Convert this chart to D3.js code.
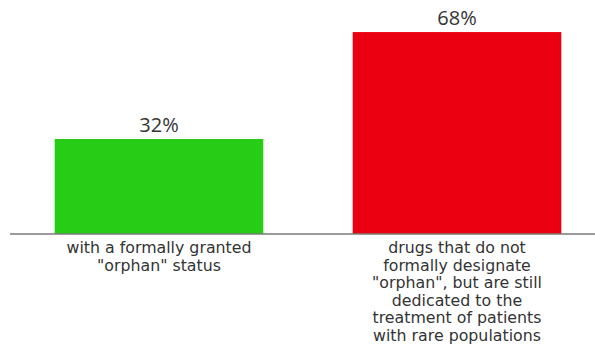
<!DOCTYPE html>
<html>
<head>
<meta charset="utf-8">
<script src="https://cdn.jsdelivr.net/npm/d3@7"></script>
<style>
  html, body { margin: 0; padding: 0; background: #fff; }
  svg { display: block; }
</style>
</head>
<body>
<svg id="chart" width="595" height="351"></svg>
<script>
// Share of drugs by orphan designation
const categories = ["granted", "not designated"];
const values = [32, 68];
const barColors = ["#26cc16", "#ea0010"];
const valueLabels = ["32%", "68%"];
const categoryLabels = [
  ["with a formally granted", "\"orphan\" status"],
  ["drugs that do not", "formally designate", "\"orphan\", but are still", "dedicated to the", "treatment of patients", "with rare populations"]
];

const svg = d3.select("#chart");
const baseY = 234;

const x = d3.scaleBand()
  .domain(categories)
  .range([10, 606])
  .paddingInner(0.3)
  .paddingOuter(0.15);

const y = d3.scaleLinear()
  .domain([0, 78.8])
  .range([baseY, 0]);

const valueFont = "'Open Sans', 'Noto Sans', sans-serif";
const labelFont = "'DejaVu Sans', 'Open Sans', sans-serif";

svg.selectAll("rect.bar")
  .data(values)
  .join("rect")
  .attr("class", "bar")
  .attr("x", (d, i) => x(categories[i]))
  .attr("width", x.bandwidth())
  .attr("y", d => y(d))
  .attr("height", d => baseY - y(d))
  .attr("fill", (d, i) => barColors[i]);

svg.selectAll("text.value")
  .data(values)
  .join("text")
  .attr("class", "value")
  .attr("x", (d, i) => x(categories[i]) + x.bandwidth() / 2)
  .attr("y", d => y(d) - 7)
  .attr("text-anchor", "middle")
  .attr("font-family", valueFont)
  .attr("font-size", 20)
  .attr("fill", "#333")
  .text((d, i) => valueLabels[i]);

// baseline axis
const xAxis = d3.axisBottom(x).tickSize(0).tickFormat("");
const axisG = svg.append("g")
  .attr("transform", `translate(0,${baseY})`)
  .call(xAxis);
axisG.select(".domain")
  .attr("d", `M10,0H595`)
  .attr("stroke", "#7a7a7a")
  .attr("stroke-width", 1.5);

// wrapped category labels
categoryLabels.forEach((lines, i) => {
  const t = svg.append("text")
    .attr("text-anchor", "middle")
    .attr("font-family", labelFont)
    .attr("font-size", 15.8)
    .attr("fill", "#333");
  lines.forEach((ln, j) => {
    t.append("tspan")
      .attr("x", x(categories[i]) + x.bandwidth() / 2)
      .attr("y", baseY + 19 + j * 17.6)
      .text(ln);
  });
});
</script>
</body>
</html>
